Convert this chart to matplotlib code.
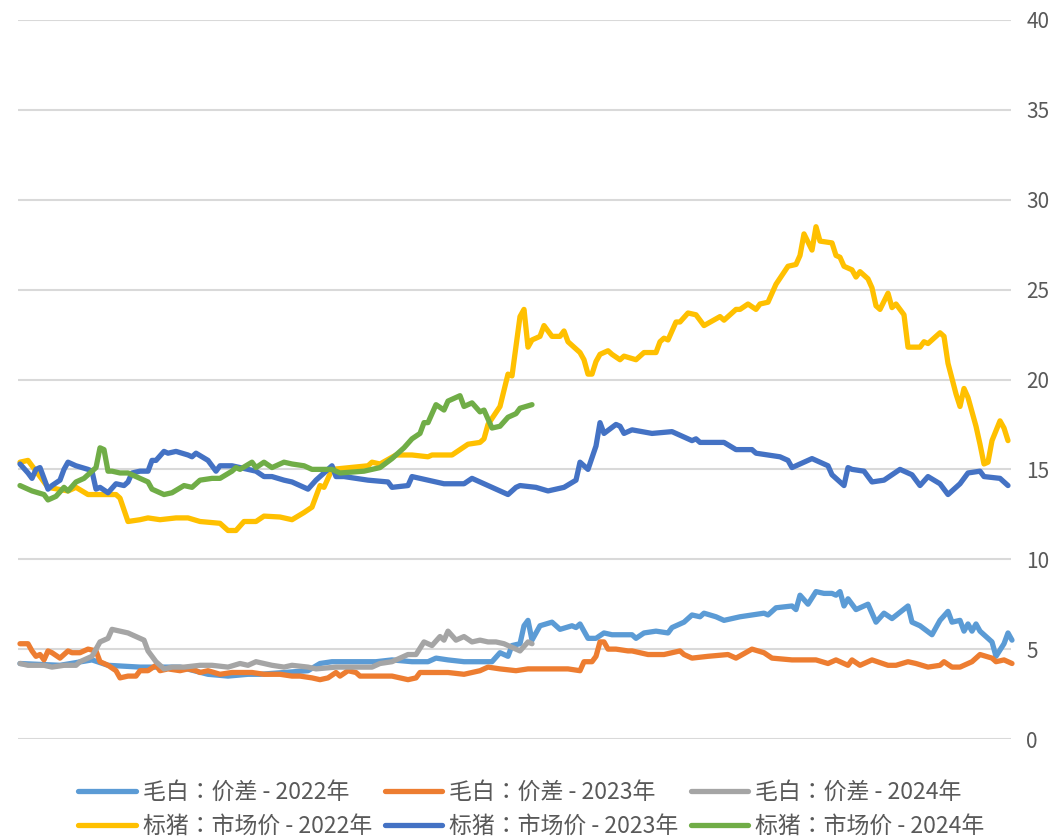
import matplotlib
matplotlib.use("Agg")
import matplotlib.pyplot as plt

plt.rcParams['font.family'] = ['Noto Sans CJK TC', 'DejaVu Sans']

# x = trading-day index within the year, y = value
mb22_x = [0, 10, 18, 22, 30, 40, 47, 52, 57, 60, 66, 72, 75, 78, 81, 84, 89, 93, 98, 102,
          104, 107, 111, 115, 118, 120, 122, 123, 125, 126, 127, 128, 130, 133, 135, 138, 139,
          140, 142, 144, 146, 148, 153, 154, 156, 159, 162, 163, 166, 168, 170, 171, 174, 176,
          180, 183, 186, 187, 189, 193, 194, 195, 197, 199, 201, 203, 204, 205, 206, 207, 209,
          212, 214, 216, 218, 222, 223, 225, 228, 230, 232, 233, 235, 236, 237, 238, 239, 240,
          243, 244, 246, 247, 248]
mb22_y = [4.2, 4.1, 4.4, 4.1, 4.0, 4.0, 3.6, 3.5, 3.6, 3.6, 3.7, 3.8, 4.2, 4.3, 4.3, 4.3, 4.3,
          4.4, 4.3, 4.3, 4.5, 4.4, 4.3, 4.3, 4.3, 4.8, 4.6, 5.2, 5.3, 6.3, 6.6, 5.5, 6.3, 6.5,
          6.1, 6.3, 6.2, 6.4, 5.6, 5.6, 5.9, 5.8, 5.8, 5.6, 5.9, 6.0, 5.9, 6.2, 6.5, 6.9, 6.8,
          7.0, 6.8, 6.6, 6.8, 6.9, 7.0, 6.9, 7.3, 7.4, 7.2, 8.0, 7.5, 8.2, 8.1, 8.1, 8.0, 8.2,
          7.4, 7.8, 7.2, 7.5, 6.5, 7.0, 6.7, 7.4, 6.5, 6.3, 5.8, 6.6, 7.1, 6.5, 6.6, 6.0, 6.4,
          6.0, 6.4, 6.0, 5.4, 4.6, 5.3, 5.9, 5.5]

mb23_x = [0, 2, 3, 4, 5, 6, 7, 8, 10, 12, 13, 15, 17, 19, 20, 22, 24, 25, 27, 29, 30, 32, 34,
          35, 37, 40, 42, 44, 45, 47, 50, 53, 58, 61, 65, 68, 70, 73, 75, 77, 79, 80, 82, 84,
          85, 89, 93, 97, 99, 100, 107, 111, 115, 117, 120, 124, 127, 133, 137, 140, 141, 143,
          144, 145, 146, 147, 149, 152, 153, 157, 161, 165, 166, 168, 172, 177, 179, 183, 186,
          188, 193, 195, 199, 202, 204, 207, 208, 210, 213, 217, 219, 222, 224, 227, 230, 231,
          233, 235, 238, 240, 243, 244, 246, 248]
mb23_y = [5.3, 5.3, 4.9, 4.6, 4.7, 4.4, 4.9, 4.8, 4.5, 4.9, 4.8, 4.8, 5.0, 4.9, 4.3, 4.1, 3.8,
          3.4, 3.5, 3.5, 3.8, 3.8, 4.1, 3.8, 3.9, 3.8, 3.9, 3.8, 3.7, 3.8, 3.6, 3.7, 3.7, 3.6,
          3.6, 3.5, 3.5, 3.4, 3.3, 3.4, 3.7, 3.5, 3.8, 3.7, 3.5, 3.5, 3.5, 3.3, 3.4, 3.7, 3.7,
          3.6, 3.8, 4.0, 3.9, 3.8, 3.9, 3.9, 3.9, 3.8, 4.3, 4.3, 4.6, 5.4, 5.4, 5.0, 5.0, 4.9,
          4.9, 4.7, 4.7, 4.9, 4.7, 4.5, 4.6, 4.7, 4.5, 5.0, 4.8, 4.5, 4.4, 4.4, 4.4, 4.2, 4.4,
          4.1, 4.4, 4.1, 4.4, 4.1, 4.1, 4.3, 4.2, 4.0, 4.1, 4.3, 4.0, 4.0, 4.3, 4.7, 4.5, 4.3,
          4.4, 4.2]

mb24_x = [0, 2, 6, 8, 11, 14, 15, 18, 20, 22, 23, 25, 27, 29, 31, 32, 34, 36, 38, 41, 45, 48,
          52, 55, 57, 59, 63, 66, 68, 72, 74, 79, 84, 88, 90, 93, 97, 99, 101, 103, 105, 106,
          107, 109, 111, 113, 115, 117, 119, 121, 123, 125, 127, 128]
mb24_y = [4.2, 4.1, 4.1, 4.0, 4.1, 4.1, 4.3, 4.6, 5.4, 5.6, 6.1, 6.0, 5.9, 5.7, 5.5, 4.9, 4.3,
          3.9, 4.0, 4.0, 4.1, 4.1, 4.0, 4.2, 4.1, 4.3, 4.1, 4.0, 4.1, 4.0, 3.9, 4.0, 4.0, 4.0,
          4.2, 4.3, 4.7, 4.7, 5.4, 5.2, 5.7, 5.5, 6.0, 5.5, 5.7, 5.4, 5.5, 5.4, 5.4, 5.3, 5.1,
          4.9, 5.4, 5.3]

bz22_x = [0, 2, 7, 12, 14, 17, 24, 25, 27, 30, 32, 35, 39, 42, 45, 50, 52, 54, 56, 59, 61, 65,
          68, 71, 73, 74, 75, 76, 77, 78, 87, 88, 90, 94, 98, 102, 103, 108, 110, 112, 115, 116,
          117, 120, 122, 123, 125, 126, 127, 128, 130, 131, 133, 135, 136, 137, 140, 141, 142,
          143, 144, 145, 147, 148, 150, 151, 154, 156, 159, 160, 161, 162, 164, 165, 167, 169,
          171, 175, 176, 179, 180, 182, 184, 185, 187, 189, 192, 194, 195, 196, 198, 199, 200,
          203, 204, 205, 206, 208, 209, 210, 212, 213, 214, 215, 217, 218, 219, 221, 222, 225,
          226, 227, 230, 231, 232, 234, 235, 236, 237, 239, 240, 241, 242, 243, 245, 246, 247]
bz22_y = [15.4, 15.5, 14.0, 13.8, 14.0, 13.6, 13.6, 13.4, 12.1, 12.2, 12.3, 12.2, 12.3, 12.3,
          12.1, 12.0, 11.6, 11.6, 12.1, 12.1, 12.4, 12.35, 12.2, 12.6, 12.9, 13.5, 14.1, 14.0,
          14.5, 15.0, 15.2, 15.4, 15.3, 15.8, 15.8, 15.7, 15.8, 15.8, 16.1, 16.4, 16.5, 16.7,
          17.5, 18.5, 20.3, 20.2, 23.5, 23.9, 21.8, 22.2, 22.4, 23.0, 22.4, 22.4, 22.7, 22.1,
          21.5, 21.1, 20.3, 20.3, 21.0, 21.4, 21.6, 21.4, 21.1, 21.3, 21.1, 21.5, 21.5, 22.1,
          22.3, 22.2, 23.2, 23.2, 23.7, 23.6, 23.0, 23.5, 23.3, 23.9, 23.9, 24.2, 23.9, 24.2,
          24.3, 25.3, 26.3, 26.4, 26.9, 28.1, 27.2, 28.5, 27.7, 27.6, 26.9, 26.8, 26.3, 26.1,
          25.7, 26.0, 25.6, 25.1, 24.1, 23.9, 24.8, 24.0, 24.2, 23.6, 21.8, 21.8, 22.1, 22.0,
          22.6, 22.4, 20.9, 19.2, 18.5, 19.5, 19.0, 17.4, 16.4, 15.3, 15.4, 16.6, 17.7, 17.3,
          16.6]

bz23_x = [0, 2, 3, 4, 5, 7, 8, 10, 11, 12, 14, 17, 18, 19, 20, 22, 24, 26, 27, 28, 30, 32, 33,
          34, 36, 37, 39, 42, 43, 44, 47, 49, 50, 53, 57, 59, 61, 63, 66, 68, 70, 72, 74, 76,
          78, 79, 81, 84, 87, 92, 93, 97, 98, 102, 106, 111, 113, 118, 122, 124, 125, 129, 132,
          136, 139, 140, 142, 144, 145, 146, 149, 150, 151, 153, 158, 163, 165, 168, 169, 170,
          176, 179, 183, 184, 190, 192, 193, 196, 198, 202, 203, 206, 207, 208, 211, 213, 216,
          218, 220, 223, 225, 227, 230, 232, 235, 237, 240, 241, 245, 247]
bz23_y = [15.3, 14.8, 14.5, 15.0, 15.1, 13.9, 14.1, 14.4, 15.0, 15.4, 15.2, 15.0, 14.9, 13.9,
          14.0, 13.7, 14.2, 14.1, 14.3, 14.8, 14.9, 14.9, 15.5, 15.5, 16.0, 15.9, 16.0, 15.8,
          15.7, 15.9, 15.5, 14.9, 15.2, 15.2, 15.0, 14.9, 14.6, 14.6, 14.4, 14.3, 14.1, 13.9,
          14.4, 14.8, 15.2, 14.6, 14.6, 14.5, 14.4, 14.3, 14.0, 14.1, 14.6, 14.4, 14.2, 14.2,
          14.5, 14.0, 13.6, 14.0, 14.1, 14.0, 13.8, 14.0, 14.4, 15.4, 15.0, 16.3, 17.6, 17.0,
          17.5, 17.4, 17.0, 17.2, 17.0, 17.1, 16.9, 16.6, 16.7, 16.5, 16.5, 16.1, 16.1, 15.9,
          15.7, 15.5, 15.1, 15.4, 15.6, 15.2, 14.7, 14.1, 15.1, 15.0, 14.9, 14.3, 14.4, 14.7,
          15.0, 14.7, 14.1, 14.6, 14.2, 13.6, 14.2, 14.8, 14.9, 14.6, 14.5, 14.1]

bz24_x = [0, 3, 6, 7, 9, 11, 12, 14, 16, 18, 19, 20, 21, 22, 23, 25, 27, 29, 32, 33, 36, 38, 41,
          43, 45, 48, 50, 53, 54, 55, 58, 59, 61, 63, 66, 68, 71, 73, 78, 80, 86, 88, 90, 93,
          96, 98, 100, 101, 102, 104, 106, 107, 110, 111, 113, 115, 116, 118, 120, 122, 124,
          125, 128]
bz24_y = [14.1, 13.8, 13.6, 13.3, 13.5, 14.0, 13.8, 14.3, 14.5, 14.9, 15.1, 16.2, 16.1, 14.9,
          14.9, 14.8, 14.8, 14.6, 14.3, 13.9, 13.6, 13.7, 14.1, 14.0, 14.4, 14.5, 14.5, 14.9,
          15.1, 15.0, 15.4, 15.1, 15.4, 15.1, 15.4, 15.3, 15.2, 15.0, 15.0, 14.8, 14.9, 15.0,
          15.1, 15.6, 16.2, 16.7, 17.0, 17.6, 17.6, 18.6, 18.3, 18.8, 19.1, 18.5, 18.7, 18.2,
          18.3, 17.3, 17.4, 17.9, 18.1, 18.4, 18.6]

labels = ['毛白：价差 - 2022年', '毛白：价差 - 2023年', '毛白：价差 - 2024年',
          '标猪：市场价 - 2022年', '标猪：市场价 - 2023年', '标猪：市场价 - 2024年']
colors = ['#5B9BD5', '#ED7D31', '#A5A5A5', '#FFC000', '#4472C4', '#70AD47']
series = [(mb22_x, mb22_y), (mb23_x, mb23_y), (mb24_x, mb24_y),
          (bz22_x, bz22_y), (bz23_x, bz23_y), (bz24_x, bz24_y)]
yticks = [0, 5, 10, 15, 20, 25, 30, 35, 40]

fig = plt.figure(figsize=(10.54, 8.40), dpi=100)
ax = fig.add_axes([18 / 1054, 1 - 739 / 840, (1011 - 18) / 1054, (739 - 20) / 840])

lines = []
for (xs, ys), c, lab in zip(series, colors, labels):
    ln, = ax.plot(xs, ys, color=c, lw=3.8, label=lab,
                  solid_joinstyle='round', solid_capstyle='round', clip_on=False)
    lines.append(ln)

ax.set_xlim(-0.5, 247.75)
ax.set_ylim(0, 40)
ax.set_yticks(yticks)
ax.yaxis.tick_right()
ax.tick_params(axis='y', length=0, pad=11, labelsize=15, labelcolor='#595959')
ax.set_xticks([])
for s in ax.spines.values():
    s.set_visible(False)
ax.grid(axis='y', color='#D9D9D9', lw=1.5)
ax.set_axisbelow(True)

# matplotlib fills legend columns first, so interleave to get row order
order = [0, 3, 1, 4, 2, 5]
fig.legend([lines[i] for i in order], [labels[i] for i in order],
           loc='center', bbox_to_anchor=(0.504, 0.0365), ncol=3, frameon=False,
           fontsize=16.5, labelcolor='#595959', handlelength=2.5, handletextpad=0.3,
           columnspacing=0.55, labelspacing=0.5)

fig.savefig('out.png', dpi=100)
